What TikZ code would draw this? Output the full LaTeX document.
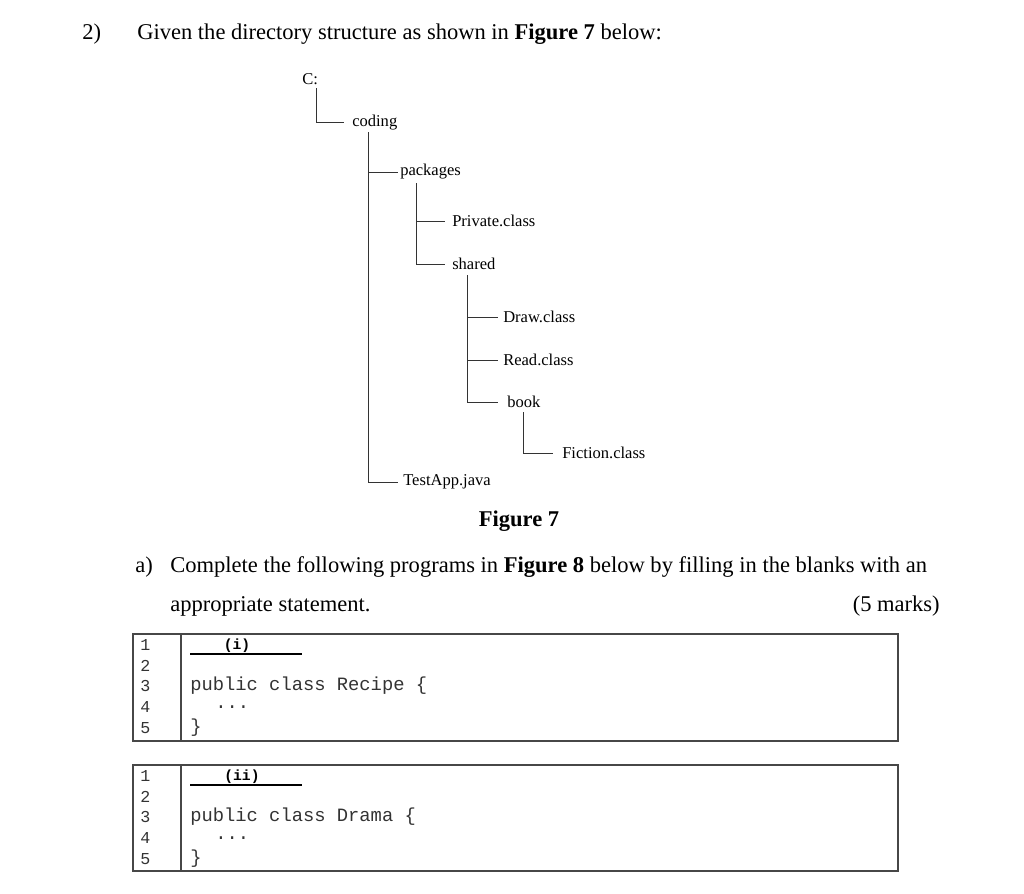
\documentclass[tikz,border=0pt]{standalone}
\usepackage{fontspec}
\setmainfont{Liberation Serif}
\setmonofont{Liberation Mono}
\begin{document}
\begin{tikzpicture}[x=0.75pt,y=-0.75pt,
  txt/.style={anchor=west,inner sep=0pt,font=\fontsize{16.9}{20}\selectfont},
  tree/.style={anchor=west,inner sep=0pt,font=\fontsize{12.4}{14}\selectfont},
  code/.style={anchor=west,inner sep=0pt,font=\ttfamily\fontsize{14.1}{16}\selectfont,text=black!80},
  num/.style={anchor=west,inner sep=0pt,font=\ttfamily\fontsize{12.5}{15}\selectfont,text=black!80},
  blank/.style={anchor=base,inner sep=0pt,font=\ttfamily\bfseries\fontsize{11}{13}\selectfont},
  branch/.style={line width=0.75pt,black!80},
  boxline/.style={line width=1.1pt,black!72}]
\useasboundingbox (0,0) rectangle (1024,893);
% header
\node[txt] (q) at (82,34) {2)};
\node[txt] (title) at (137,34) {Given the directory structure as shown in \textbf{Figure 7} below:};
% tree
\node[tree] (C) at (302,79) {C:};
\node[tree] (coding) at (352,123) {coding};
\node[tree] (packages) at (400,172) {packages};
\node[tree] (private) at (452,221) {Private.class};
\node[tree] (shared) at (452,264) {shared};
\node[tree] (draw) at (503,317) {Draw.class};
\node[tree] (read) at (503,360) {Read.class};
\node[tree] (book) at (507,402) {book};
\node[tree] (fiction) at (562,453) {Fiction.class};
\node[tree] (testapp) at (403,482) {TestApp.java};
\coordinate (vC) at (316,88);
\coordinate (vcoding) at (368,132);
\coordinate (vpackages) at (416,183);
\coordinate (vshared) at (467,275);
\coordinate (vbook) at (523,412);
\draw[branch] (vC) |- ([xshift=-6pt,yshift=0.75pt]coding.west);
\draw[branch] (vcoding) |- ([xshift=-1.5pt]packages.west);
\draw[branch] (vcoding) |- ([xshift=-4pt]testapp.west);
\draw[branch] (vpackages) |- ([xshift=-5pt]private.west);
\draw[branch] (vpackages) |- ([xshift=-5pt]shared.west);
\draw[branch] (vshared) |- ([xshift=-4pt]draw.west);
\draw[branch] (vshared) |- ([xshift=-4pt]read.west);
\draw[branch] (vshared) |- ([xshift=-7pt]book.west);
\draw[branch] (vbook) |- ([xshift=-7pt]fiction.west);
\node[inner sep=0pt,font=\fontsize{16.9}{20}\selectfont\bfseries] (fig7) at (519,521) {Figure 7};
% question a
\node[txt] (qa) at (135,567) {a)};
\node[txt] (qatext) at (170,567) {Complete the following programs in \textbf{Figure 8} below by filling in the blanks with an};
\node[txt] (qa2) at (170,606) {appropriate statement.};
\node[txt,anchor=east] (marks) at (940,606) {(5 marks)};
% code box 1
\draw[boxline] (133,634) rectangle (898,741);
\draw[boxline] (181,634) -- (181,741);
\foreach \n/\y in {1/645,2/666,3/686,4/707,5/728}{
  \node[num] (a\n) at (140,\y) {\n};
}
\node[blank] (i) at (237,649) {(i)};
\draw[line width=0.8pt] (190,654) -- (302,654);
\node[code] (recipe) at (190,686) {public class Recipe \{};
\node[code] (dots1) at (215,707) {...};
\node[code] (close1) at (190,728) {\}};
% code box 2
\draw[boxline] (133,765) rectangle (898,871);
\draw[boxline] (181,765) -- (181,871);
\foreach \n/\y in {1/776,2/797,3/817,4/838,5/859}{
  \node[num] (b\n) at (140,\y) {\n};
}
\node[blank] (ii) at (242,780) {(ii)};
\draw[line width=0.8pt] (190,785) -- (302,785);
\node[code] (drama) at (190,817) {public class Drama \{};
\node[code] (dots2) at (215,838) {...};
\node[code] (close2) at (190,859) {\}};
\end{tikzpicture}
\end{document}
